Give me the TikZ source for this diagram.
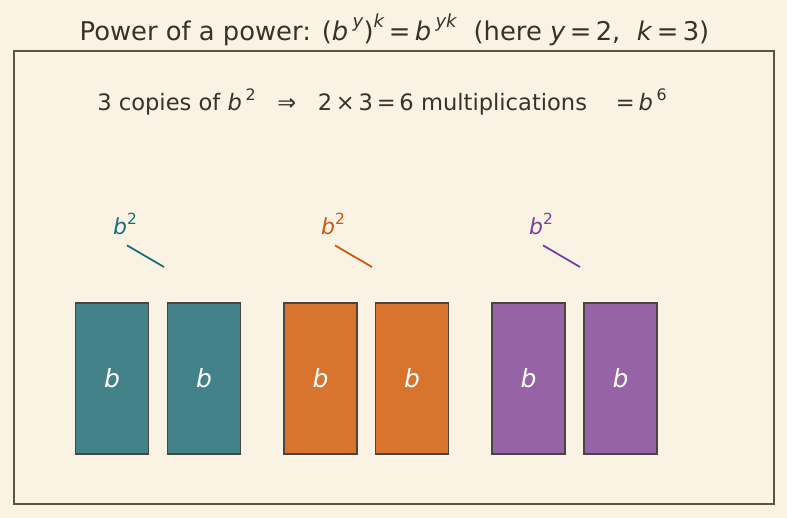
\documentclass[tikz,border=0pt]{standalone}
\usepackage{fontspec}
\setmainfont{DejaVu Sans}

\definecolor{paper}{HTML}{FAF3E4}
\definecolor{ink}{HTML}{3B3128}
\definecolor{framebrown}{HTML}{5E5342}
\definecolor{edgegray}{HTML}{4A4540}
\definecolor{tealfill}{HTML}{44828A}
\definecolor{orangefill}{HTML}{D9742F}
\definecolor{purplefill}{HTML}{9563A6}
\definecolor{tealink}{HTML}{1E6E78}
\definecolor{orangeink}{HTML}{CC5A12}
\definecolor{purpleink}{HTML}{7A40A0}

\newcommand{\sups}[1]{\raisebox{0.48em}{\scalebox{0.7}{#1}}}
\newcommand{\iv}[1]{\textit{#1}}

\begin{document}
\begin{tikzpicture}[x=1pt, y=-1pt,
    factor/.style={rectangle, draw=edgegray, line width=1.3pt,
        minimum width=73pt, minimum height=151pt, inner sep=0pt,
        text=white, font=\fontsize{25}{30}\selectfont\itshape},
    power/.style={inner sep=1pt, font=\fontsize{22}{26}\selectfont},
    pointer/.style={line width=1.8pt}
]
    \fill[paper] (0,0) rectangle (787,518);
    \useasboundingbox (0,0) rectangle (787,518);
    \draw[framebrown, line width=1.3pt] (14,51) rectangle (774,504);

    \node[text=ink, font=\fontsize{25.8}{31}\selectfont] (title) at (394.5,30)
        {Power of a power: (\iv{b}\,\sups{\iv{y}})\sups{\iv{k}}\,=\,\iv{b}\,\sups{\iv{yk}}\ \ (here \iv{y}\,=\,2,\ \ \iv{k}\,=\,3)};
    \node[text=ink, font=\fontsize{22.6}{27}\selectfont] (summary) at (382,102)
        {3 copies of \iv{b}\,\sups{2}\ \ \ ⇒\ \ \ 2\,×\,3\,=\,6 multiplications\ \ \ \ =\,\iv{b}\,\sups{6}};

    \node[factor, fill=tealfill] (b1) at (112,378.5) {b};
    \node[factor, fill=tealfill] (b2) at (204,378.5) {b};
    \node[factor, fill=orangefill] (b3) at (320.5,378.5) {b};
    \node[factor, fill=orangefill] (b4) at (412,378.5) {b};
    \node[factor, fill=purplefill] (b5) at (528.5,378.5) {b};
    \node[factor, fill=purplefill] (b6) at (620.5,378.5) {b};

    \node[power, text=tealink] (p1) at (125,224) {\iv{b}\sups{2}};
    \node[power, text=orangeink] (p2) at (333,224) {\iv{b}\sups{2}};
    \node[power, text=purpleink] (p3) at (541,224) {\iv{b}\sups{2}};

    \coordinate (t1) at (164,267);
    \coordinate (t2) at (372,267);
    \coordinate (t3) at (580,267);
    \draw[pointer, tealink] ([xshift=2pt, yshift=-9pt]p1.south) -- (t1);
    \draw[pointer, orangeink] ([xshift=2pt, yshift=-9pt]p2.south) -- (t2);
    \draw[pointer, purpleink] ([xshift=2pt, yshift=-9pt]p3.south) -- (t3);
\end{tikzpicture}
\end{document}
